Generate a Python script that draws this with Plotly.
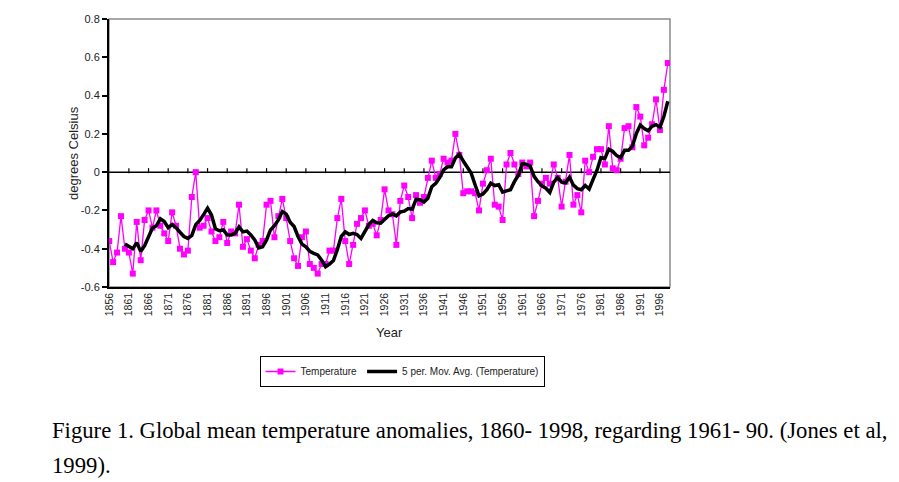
import plotly.graph_objects as go
import pandas as pd

# ---------------- data ----------------
years = list(range(1856, 1999))
temperature = [
    -0.36, -0.47, -0.42, -0.23, -0.40, -0.42, -0.53, -0.26, -0.46, -0.25,   # 1856-1865
    -0.20, -0.29, -0.20, -0.28, -0.32, -0.36, -0.21, -0.28, -0.40, -0.43,   # 1866-1875
    -0.41, -0.13, 0.00, -0.29, -0.28, -0.24, -0.31, -0.36, -0.34, -0.26,    # 1876-1885
    -0.37, -0.31, -0.32, -0.17, -0.39, -0.35, -0.41, -0.45, -0.38, -0.36,   # 1886-1895
    -0.17, -0.15, -0.34, -0.23, -0.14, -0.24, -0.36, -0.45, -0.49, -0.34,   # 1896-1905
    -0.31, -0.48, -0.50, -0.53, -0.48, -0.48, -0.41, -0.41, -0.24, -0.14,   # 1906-1915
    -0.36, -0.48, -0.38, -0.27, -0.24, -0.20, -0.28, -0.27, -0.33, -0.25,   # 1916-1925
    -0.09, -0.20, -0.22, -0.38, -0.15, -0.07, -0.13, -0.24, -0.12, -0.16,   # 1926-1935
    -0.13, -0.03, 0.06, -0.03, -0.01, 0.07, 0.05, 0.06, 0.20, 0.09,         # 1936-1945
    -0.11, -0.10, -0.10, -0.11, -0.20, -0.06, 0.01, 0.07, -0.17, -0.18,     # 1946-1955
    -0.25, 0.04, 0.10, 0.04, -0.01, 0.05, 0.03, 0.05, -0.23, -0.15,         # 1956-1965
    -0.06, -0.03, -0.06, 0.04, -0.03, -0.18, -0.05, 0.09, -0.17, -0.12,     # 1966-1975
    -0.21, 0.06, 0.00, 0.08, 0.12, 0.12, 0.04, 0.24, 0.02, 0.01,            # 1976-1985
    0.07, 0.23, 0.24, 0.13, 0.34, 0.29, 0.14, 0.18, 0.25, 0.38,             # 1986-1995
    0.22, 0.43, 0.57,                                                       # 1996-1998
]
tick_years = list(range(1856, 1997, 5))
tick_labels = [str(y) for y in tick_years]
y_ticks = [-0.6, -0.4, -0.2, 0, 0.2, 0.4, 0.6, 0.8]
y_tick_labels = ["-0.6", "-0.4", "-0.2", "0", "0.2", "0.4", "0.6", "0.8"]

mov_avg = pd.Series(temperature).rolling(5).mean().round(4).tolist()

# ---------------- layout geometry ----------------
W, H = 899, 482
L, R, T, B = 109, 670, 19, 287


def px_x(px):
    return (px - L) / (R - L)


def px_y(py):
    return (B - py) / (B - T)


fig = go.Figure()
fig.add_trace(go.Scatter(
    x=years, y=temperature, name="Temperature", mode="lines+markers",
    line=dict(color="#FF00FF", width=1.3),
    marker=dict(symbol="square", size=6, color="#FF00FF"),
))
fig.add_trace(go.Scatter(
    x=years, y=mov_avg, name="5 per. Mov. Avg. (Temperature)", mode="lines",
    line=dict(color="#000000", width=3.5),
))

shapes = [
    dict(type="rect", xref="paper", yref="paper", x0=0, x1=1, y0=0, y1=1,
         line=dict(color="#8c8c8c", width=1.5), layer="below"),
    dict(type="line", xref="paper", yref="y", x0=0, x1=1, y0=0, y1=0,
         line=dict(color="#000000", width=1.5), layer="below"),
]
for ty in tick_years[1:]:
    shapes.append(dict(type="line", xref="x", yref="y", ysizemode="pixel",
                       yanchor=0, x0=ty, x1=ty, y0=-1, y1=4,
                       line=dict(color="#000000", width=1.2), layer="below"))

cap_font = dict(family="Liberation Serif, Times New Roman", size=22.7, color="#000")
annotations = [
    dict(text="degrees Celsius", x=px_x(73), y=px_y(153), xref="paper", yref="paper",
         xanchor="center", yanchor="middle", textangle=-90, showarrow=False,
         font=dict(family="Liberation Sans, Arial", size=13, color="#222")),
    dict(text="Year", x=px_x(389), y=px_y(332), xref="paper", yref="paper",
         xanchor="center", yanchor="middle", showarrow=False,
         font=dict(family="Liberation Sans, Arial", size=13, color="#222")),
    dict(text="Figure 1. Global mean temperature anomalies, 1860- 1998, regarding 1961- 90. (Jones et al,",
         x=px_x(50), y=px_y(430), xref="paper", yref="paper", xanchor="left", yanchor="middle",
         showarrow=False, font=cap_font),
    dict(text="1999).",
         x=px_x(50), y=px_y(465), xref="paper", yref="paper", xanchor="left", yanchor="middle",
         showarrow=False, font=cap_font),
]

fig.update_layout(
    width=W, height=H,
    margin=dict(l=L, r=W - R, t=T, b=H - B),
    paper_bgcolor="white", plot_bgcolor="white",
    showlegend=True,
    legend=dict(orientation="h", x=px_x(402), xanchor="center", y=px_y(356), yanchor="top",
                bordercolor="#000", borderwidth=1, bgcolor="white",
                font=dict(family="Liberation Sans, Arial", size=10, color="#222"),
                itemwidth=30, tracegroupgap=0),
    shapes=shapes,
    annotations=annotations,
    font=dict(family="Liberation Sans, Arial", color="#222"),
)
fig.update_xaxes(
    range=[1855.95, 1998.55], showgrid=False, zeroline=False,
    tickmode="array", tickvals=tick_years, ticktext=tick_labels, tickangle=-90,
    ticks="", showline=True, linecolor="#000", linewidth=1.5,
    tickfont=dict(family="Liberation Sans, Arial", size=10.5, color="#222"),
)
fig.update_yaxes(
    range=[-0.6, 0.8], showgrid=False, zeroline=False,
    tickmode="array", tickvals=y_ticks, ticktext=y_tick_labels,
    ticks="outside", ticklen=5, tickcolor="#000", tickwidth=1.5,
    showline=True, linecolor="#000", linewidth=2,
    tickfont=dict(family="Liberation Sans, Arial", size=11, color="#222"),
)

fig.write_html("out.html")
